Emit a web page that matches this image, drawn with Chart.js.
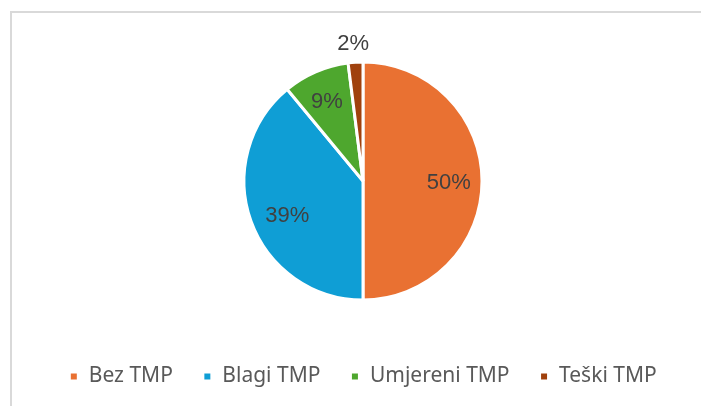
<!DOCTYPE html>
<html>
<head>
<meta charset="utf-8">
<script src="https://cdn.jsdelivr.net/npm/chart.js@4"></script>
<style>
  html, body { margin: 0; padding: 0; background: #fff; overflow: hidden; }
  canvas { display: block; }
</style>
</head>
<body>
<canvas id="c" width="701" height="406"></canvas>
<script>
const categories = ["Bez TMP", "Blagi TMP", "Umjereni TMP", "Teški TMP"];
const values = [50, 39, 9, 2];
const labelsText = ["50%", "39%", "9%", "2%"];
const colors = ["#E97132", "#0F9ED5", "#4EA72E", "#A0410D"];
const labelRadiusFactor = [0.72, 0.72, 0.72, 1.17];
const labelNudge = [[0, 2], [5, 6], [-2, 0], [-1, 2]];

const framePlugin = {
  id: 'frame',
  beforeDraw(chart) {
    const ctx = chart.ctx;
    ctx.save();
    ctx.fillStyle = '#ffffff';
    ctx.fillRect(0, 0, chart.width, chart.height);
    ctx.strokeStyle = '#d9d9d9';
    ctx.lineWidth = 2;
    ctx.beginPath();
    ctx.moveTo(11, chart.height);
    ctx.lineTo(11, 12);
    ctx.lineTo(chart.width, 12);
    ctx.stroke();
    ctx.restore();
  }
};

const labelPlugin = {
  id: 'sliceLabels',
  afterDatasetsDraw(chart) {
    const ctx = chart.ctx;
    const meta = chart.getDatasetMeta(0);
    ctx.save();
    ctx.font = '22px "Liberation Sans", Arial, sans-serif';
    ctx.fillStyle = '#404040';
    ctx.textAlign = 'center';
    ctx.textBaseline = 'middle';
    meta.data.forEach((arc, i) => {
      const p = arc.getProps(['x', 'y', 'startAngle', 'endAngle', 'outerRadius'], true);
      const mid = (p.startAngle + p.endAngle) / 2;
      const r = p.outerRadius * labelRadiusFactor[i];
      ctx.fillText(labelsText[i],
        p.x + Math.cos(mid) * r + labelNudge[i][0],
        p.y + Math.sin(mid) * r + labelNudge[i][1]);
    });
    ctx.restore();
  }
};

new Chart(document.getElementById('c'), {
  type: 'pie',
  data: {
    labels: categories,
    datasets: [{
      data: values,
      backgroundColor: colors,
      borderColor: '#ffffff',
      borderWidth: 3,
      radius: 119
    }]
  },
  options: {
    responsive: false,
    animation: false,
    layout: { padding: { top: 26, bottom: 9, left: 25, right: 0 } },
    plugins: {
      tooltip: { enabled: false },
      legend: {
        position: 'bottom',
        labels: {
          boxWidth: 9,
          boxHeight: 9,
          padding: 30,
          color: '#595959',
          font: { family: '"Noto Sans", sans-serif', size: 21 }
        }
      }
    }
  },
  plugins: [framePlugin, labelPlugin]
});
</script>
</body>
</html>
